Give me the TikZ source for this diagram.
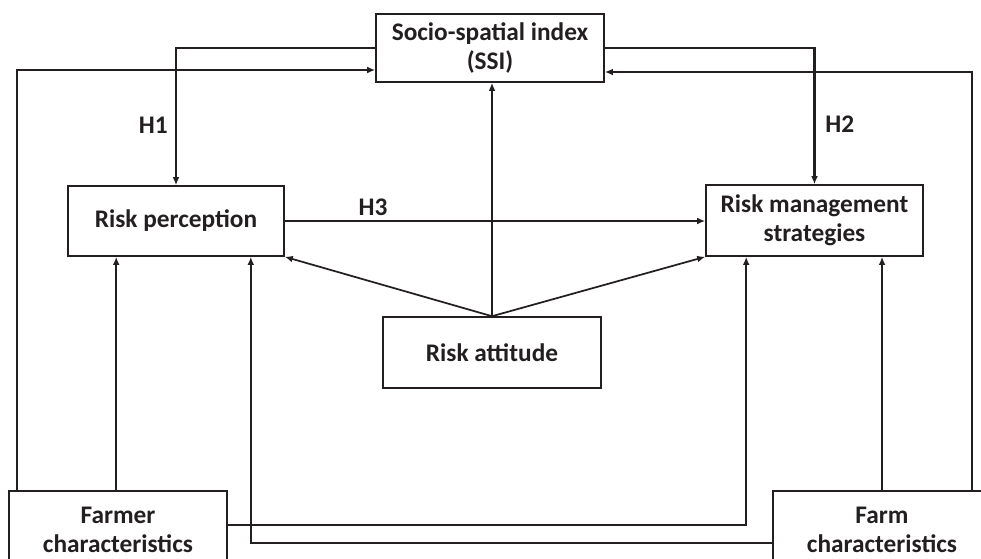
\documentclass[tikz,border=0pt]{standalone}
\usepackage{fontspec}
\setmainfont{Carlito}
\usetikzlibrary{arrows.meta,positioning,calc}
\definecolor{lineGrey}{RGB}{35, 31, 32}

\begin{document}
\begin{tikzpicture}[
    x=0.75pt, y=-0.75pt,
    box/.style={rectangle, draw=lineGrey, line width=1.2pt, minimum width=218*0.75pt, minimum height=70*0.75pt, align=center, font=\fontsize{19}{22}\selectfont\bfseries, text=lineGrey, inner sep=2pt},
    arrow/.style={-{Latex[length=6pt,width=5pt]}, draw=lineGrey, line width=1.3pt},
    heavy/.style={arrow, line width=1.7pt},
    label/.style={font=\fontsize{19}{22}\selectfont\bfseries, text=lineGrey}
]
\clip (0,0) rectangle (981,558);

% Main boxes
\node[box, minimum height=68*0.75pt, minimum width=228*0.75pt] (ssi) at (490,48) {Socio-spatial index\\(SSI)};
\node[box, minimum width=216*0.75pt] (rp) at (176,221) {Risk perception};
\node[box, minimum width=217*0.75pt, minimum height=71*0.75pt] (rms) at (814.5,220.5) {Risk management\\strategies};
\node[box, minimum height=71*0.75pt] (ra) at (492,352.5) {Risk attitude};

% Characteristics (cut by the lower edge)
\node[box, minimum height=78*0.75pt] (farmer) at (118,530) {Farmer\\characteristics};
\node[box, minimum height=78*0.75pt] (farm) at (882,530) {Farm\\characteristics};

% Entry points on the box bottoms
\coordinate (rpIn1) at ($(rp.south west)+(49,0)$);
\coordinate (rpIn2) at ($(rp.south east)+(-34,0)$);
\coordinate (rmsIn1) at ($(rms.south west)+(41,0)$);

% Hypotheses
\draw[heavy] (ssi.west) -| (rp.north) node[pos=0.78, left, label, xshift=-2pt] {H1};
\draw[heavy] (ssi.east) -| (rms.north) node[pos=0.78, right, label, xshift=4pt] {H2};
\draw[arrow] (rp.east) -- (rp.east -| rms.west) node[pos=0.21, above, label] {H3};

% Risk attitude
\draw[arrow] (ra.north) -- (ra.north |- ssi.south);
\draw[arrow] (ra.north) -- (rp.south east);
\draw[arrow] (ra.north) -- (rms.south west);

% Loops to SSI
\draw[arrow] ($(farmer.north west)+(9,0)$) |- ($(ssi.west)+(0,22)$);
\draw[arrow] ($(farm.north west)+(200,0)$) |- ($(ssi.east)+(0,24)$);

% Characteristics to boxes
\draw[arrow] (farmer.north -| rpIn1) -- (rpIn1);
\draw[arrow] (farm.north) -- (farm.north |- rms.south);
\draw[arrow] ($(farmer.east)+(0,-5)$) -| (rmsIn1);
\draw[heavy] ($(farm.west)+(0,13)$) -| (rpIn2);
\end{tikzpicture}
\end{document}
